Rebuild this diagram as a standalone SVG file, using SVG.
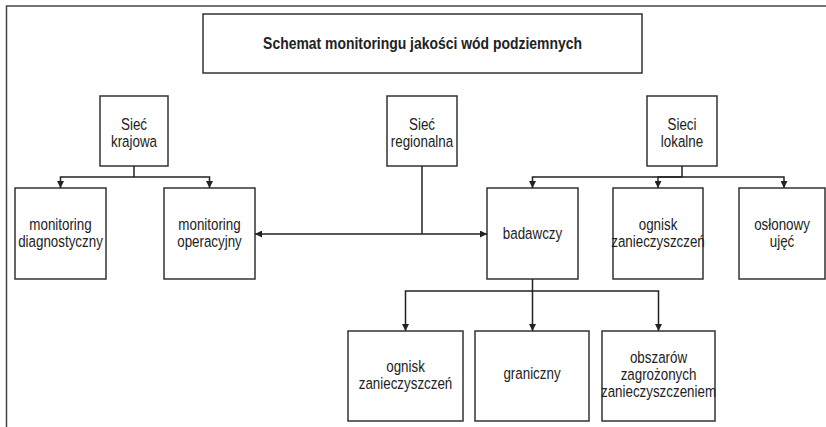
<svg xmlns="http://www.w3.org/2000/svg" width="826" height="427" viewBox="0 0 826 427">
<style>
.box{fill:#fff;stroke:#333;stroke-width:1.5}
.ln{fill:none;stroke:#222;stroke-width:1.5}
.t{font-family:"Liberation Sans",Arial,sans-serif;font-size:16.5px;fill:#222;text-anchor:middle}
.tt{font-family:"Liberation Sans",Arial,sans-serif;font-size:17px;font-weight:bold;fill:#222;text-anchor:middle}
</style>
<defs>
<marker id="ah" viewBox="0 0 10 10" refX="10" refY="5" markerWidth="7" markerHeight="7" markerUnits="userSpaceOnUse" orient="auto-start-reverse">
<path d="M0,0 L10,5 L0,10 z" fill="#222"/>
</marker>
</defs>
<path d="M6.5,427 V6 H826" fill="none" stroke="#444" stroke-width="1.5"/>
<g id="title">
<rect class="box" x="203" y="14" width="439" height="59"/>
<text class="tt" transform="translate(422.5,0) scale(0.82,1)"><tspan x="0" y="49">Schemat monitoringu jakości wód podziemnych</tspan></text>
</g>
<g id="siec-krajowa">
<rect class="box" x="100" y="96" width="68" height="70"/>
<text class="t" transform="translate(134,0) scale(0.81,1)"><tspan x="0" y="130">Sieć</tspan><tspan x="0" y="147">krajowa</tspan></text>
</g>
<g id="siec-regionalna">
<rect class="box" x="387" y="96" width="70" height="70"/>
<text class="t" transform="translate(422,0) scale(0.81,1)"><tspan x="0" y="130">Sieć</tspan><tspan x="0" y="147">regionalna</tspan></text>
</g>
<g id="sieci-lokalne">
<rect class="box" x="647" y="96" width="70" height="70"/>
<text class="t" transform="translate(682,0) scale(0.81,1)"><tspan x="0" y="130">Sieci</tspan><tspan x="0" y="147">lokalne</tspan></text>
</g>
<g id="monitoring-diagnostyczny">
<rect class="box" x="15" y="188" width="91" height="91"/>
<text class="t" transform="translate(60.5,0) scale(0.81,1)"><tspan x="0" y="230">monitoring</tspan><tspan x="0" y="247">diagnostyczny</tspan></text>
</g>
<g id="monitoring-operacyjny">
<rect class="box" x="164" y="188" width="91" height="91"/>
<text class="t" transform="translate(209.5,0) scale(0.81,1)"><tspan x="0" y="230">monitoring</tspan><tspan x="0" y="247">operacyjny</tspan></text>
</g>
<g id="badawczy">
<rect class="box" x="487" y="188" width="91" height="91"/>
<text class="t" transform="translate(532.5,0) scale(0.81,1)"><tspan x="0" y="239">badawczy</tspan></text>
</g>
<g id="ognisk-top">
<rect class="box" x="613" y="188" width="90" height="91"/>
<text class="t" transform="translate(658,0) scale(0.81,1)"><tspan x="0" y="230">ognisk</tspan><tspan x="0" y="247">zanieczyszczeń</tspan></text>
</g>
<g id="oslonowy">
<rect class="box" x="739" y="188" width="86" height="91"/>
<text class="t" transform="translate(782,0) scale(0.81,1)"><tspan x="0" y="230">osłonowy</tspan><tspan x="0" y="247">ujęć</tspan></text>
</g>
<g id="ognisk-bottom">
<rect class="box" x="348" y="331" width="115" height="90"/>
<text class="t" transform="translate(405.5,0) scale(0.81,1)"><tspan x="0" y="372">ognisk</tspan><tspan x="0" y="389">zanieczyszczeń</tspan></text>
</g>
<g id="graniczny">
<rect class="box" x="475" y="331" width="114" height="90"/>
<text class="t" transform="translate(532,0) scale(0.81,1)"><tspan x="0" y="379">graniczny</tspan></text>
</g>
<g id="obszarow">
<rect class="box" x="602" y="331" width="113" height="90"/>
<text class="t" transform="translate(658.5,0) scale(0.81,1)"><tspan x="0" y="363">obszarów</tspan><tspan x="0" y="380">zagrożonych</tspan><tspan x="0" y="397">zanieczyszczeniem</tspan></text>
</g>
<g id="connectors">
<path class="ln" d="M134,166 V177"/>
<path class="ln" d="M134,177 H60.5 V188" marker-end="url(#ah)"/>
<path class="ln" d="M134,177 H209.5 V188" marker-end="url(#ah)"/>
<path class="ln" d="M422,166 V234"/>
<path class="ln" d="M422,234 H255" marker-end="url(#ah)"/>
<path class="ln" d="M422,234 H487" marker-end="url(#ah)"/>
<path class="ln" d="M682,166 V177"/>
<path class="ln" d="M682,177 H532.5 V188" marker-end="url(#ah)"/>
<path class="ln" d="M682,177 H658 V188" marker-end="url(#ah)"/>
<path class="ln" d="M682,177 H784 V188" marker-end="url(#ah)"/>
<path class="ln" d="M532.5,279 V291"/>
<path class="ln" d="M532.5,291 H405.5 V331" marker-end="url(#ah)"/>
<path class="ln" d="M532.5,291 V331" marker-end="url(#ah)"/>
<path class="ln" d="M532.5,291 H658.5 V331" marker-end="url(#ah)"/>
</g>
</svg>
